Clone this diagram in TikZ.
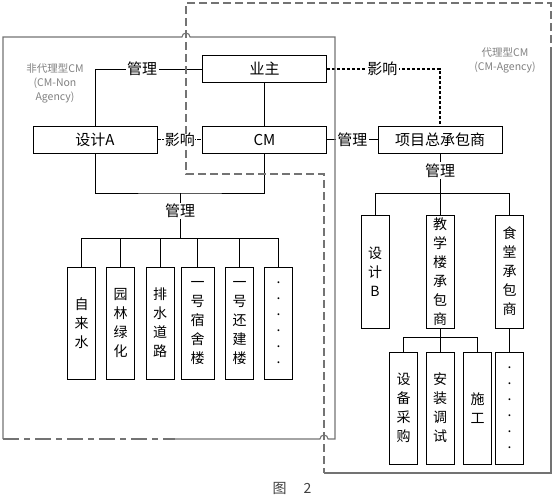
\documentclass[tikz,border=0pt]{standalone}
\usepackage{fontspec}
\setmainfont{Noto Sans CJK SC}
\usepackage{tikz}

\begin{document}
\begin{tikzpicture}[x=1pt, y=-1pt, line width=0.8pt,
        hbox/.style={draw, minimum width=124pt, minimum height=27pt, inner sep=0pt, font=\fontsize{15}{18}\selectfont},
        vbox/.style={draw, minimum width=28pt, minimum height=112pt, inner sep=1pt, align=center, font=\fontsize{14}{19}\selectfont},
        dotbox/.style={vbox, font=\fontsize{14}{16}\selectfont},
        lab/.style={fill=white, inner sep=1.5pt, font=\fontsize{15}{18}\selectfont},
        infl/.style={dash pattern=on 3.5pt off 1.5pt, line width=1.1pt},
        outer/.style={draw=black!55, line width=1.1pt},
        outdash/.style={outer, dash pattern=on 8pt off 4pt},
        note/.style={text=black!50, align=center, font=\fontsize{10.5}{14}\selectfont}]
        \useasboundingbox (0,0) rectangle (558,504);

        \node[hbox] (yezhu) at (264.5,69) {业主};
        \node[hbox] (cm) at (264.5,139.5) {CM};
        \node[hbox] (shejiA) at (95,139.5) {设计A};
        \node[hbox] (zongbao) at (440,139.5) {项目总承包商};

        \node[vbox] (zilaishui) at (81.5,323) {自\\来\\水};
        \node[vbox] (yuanlin) at (120.5,323) {园\\林\\绿\\化};
        \node[vbox] (paishui) at (160,323) {排\\水\\道\\路};
        \node[vbox, minimum width=33pt] (sushe) at (197.5,323) {一\\号\\宿\\舍\\楼};
        \node[vbox] (huanjian) at (239.5,323) {一\\号\\还\\建\\楼};
        \node[dotbox] (dotsL) at (278.5,323) {.\\.\\.\\.\\.\\.};

        \node[vbox, minimum height=113pt] (shejiB) at (375,271.5) {设\\计\\B};
        \node[vbox, minimum height=113pt] (jiaoxue) at (440,271.5) {教\\学\\楼\\承\\包\\商};
        \node[vbox, minimum height=113pt] (shitang) at (509.5,271.5) {食\\堂\\承\\包\\商};
        \node[vbox] (shebei) at (403.5,408) {设\\备\\采\\购};
        \node[vbox] (anzhuang) at (440,408) {安\\装\\调\\试};
        \node[vbox] (shigong) at (477.5,408) {施\\工};
        \node[dotbox] (dotsR) at (509.5,408) {.\\.\\.\\.\\.\\.};

        \draw (yezhu.west) -| node[lab, pos=0.28] {管理} (shejiA.north);
        \draw[infl] (shejiA.east) -- node[lab, inner sep=0.5pt] {影响} (cm.west);
        \draw (yezhu.south) -- (cm.north);
        \draw[infl] (yezhu.east) -| node[lab, pos=0.245] {影响} (zongbao.north);
        \draw (cm.east) -- node[lab] {管理} (zongbao.west);

        \coordinate (hubA) at (180,193);
        \coordinate (busA) at (180,238);
        \draw (shejiA.south) |- (hubA) -| (cm.south);
        \draw (hubA) -- node[lab, pos=0.4] {管理} (busA);
        \foreach \n in {zilaishui, yuanlin, paishui, sushe, huanjian, dotsL}
            \draw (busA) -| (\n.north);

        \coordinate (busB) at (440,193);
        \coordinate (busC) at (440,337);
        \draw (zongbao.south) -- node[lab, pos=0.43] {管理} (busB);
        \foreach \n in {shejiB, jiaoxue, shitang}
            \draw (busB) -| (\n.north);
        \draw (jiaoxue.south) -- (busC);
        \foreach \n in {shebei, anzhuang, shigong}
            \draw (busC) -| (\n.north);
        \draw (shitang.south) -- (dotsR.north);

        \draw[outer] (175,439) -- (320,439) arc (180:360:4) -- (335,439) -- (335,37) -- (190,37) arc (0:-180:4) -- (3,37) -- (3,439);
        \draw[outer, dash pattern=on 16pt off 5pt on 6pt off 5pt] (3,439) -- (175,439);
        \draw[outdash] (551,55) -- (551,3) -- (186,3) -- (186,174) -- (324,174) -- (324,473);
        \draw[outer] (324,473) -- (551,473) -- (551,55);

        \node[note] (feidaili) at (55,83) {非代理型CM\\(CM-Non\\Agency)};
        \node[note] (daili) at (505,60) {代理型CM\\(CM-Agency)};
        \node[font=\fontsize{14}{16}\selectfont, text=black!75] (tu) at (292,488) {图\hspace{1.2em}2};
    \end{tikzpicture}
\end{document}
